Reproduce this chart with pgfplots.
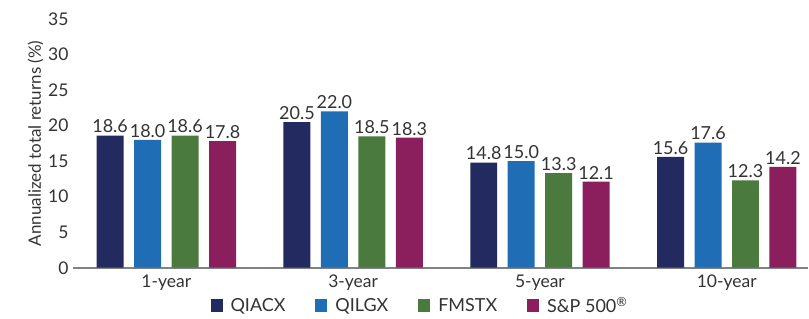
\documentclass[border=0pt]{standalone}
\usepackage{pgfplots}
\pgfplotsset{compat=1.18}
\usepackage{fontspec}
\setmainfont{Lato}
\definecolor{cA}{HTML}{222A60}
\definecolor{cB}{HTML}{1F6DB5}
\definecolor{cC}{HTML}{4A7A3D}
\definecolor{cD}{HTML}{8B1F5E}
\definecolor{txt}{HTML}{333333}
\definecolor{axl}{HTML}{808285}
\begin{document}
\begin{tikzpicture}
\begin{axis}[
  scale only axis,
  width=736pt, height=249pt,
  ybar=10.5pt, bar width=27pt,
  xmin=-0.5, xmax=3.436,
  ymin=0, ymax=35,
  ytick={0,5,...,35},
  xtick={0,1,2,3},
  xticklabels={1-year,3-year,5-year,10-year},
  axis y line=none,
  axis x line*=bottom,
  hide y axis=false,
  axis line style={draw=axl, line width=1.6pt},
  x axis line style={-},
  y axis line style={draw=none},
  major tick length=0pt,
  tick style={draw=none},
  /pgf/number format/assume math mode=true,
  ticklabel style={font=\fontsize{17.5}{20}\selectfont, text=txt},
  yticklabel style={xshift=-1pt},
  xticklabel style={yshift=-4pt},
  ylabel={Annualized total returns (\%)},
  ylabel style={font=\fontsize{17}{20}\selectfont, text=txt, yshift=-2pt},
  nodes near coords,
  nodes near coords style={font=\fontsize{18}{20}\selectfont, text=txt, /pgf/number format/fixed, /pgf/number format/fixed zerofill, /pgf/number format/precision=1, /pgf/number format/assume math mode=true, yshift=-1pt},
  legend style={at={(0.472,-0.152)}, anchor=center, draw=none, legend columns=-1, font=\fontsize{18}{20}\selectfont, text=txt, /tikz/every odd column/.append style={column sep=6pt}, /tikz/every even column/.append style={column sep=28pt}},
  legend image code/.code={\fill[#1] (0pt,-6.5pt) rectangle (12pt,6.5pt);},
  clip=false,
]
\addplot[fill=cA, draw=none] coordinates {(0,18.6) (1,20.5) (2,14.8) (3,15.6)};
\addplot[fill=cB, draw=none] coordinates {(0,18.0) (1,22.0) (2,15.0) (3,17.6)};
\addplot[fill=cC, draw=none] coordinates {(0,18.6) (1,18.5) (2,13.3) (3,12.3)};
\addplot[fill=cD, draw=none] coordinates {(0,17.8) (1,18.3) (2,12.1) (3,14.2)};
\legend{QIACX, QILGX, FMSTX, S\&P 500\textsuperscript{®}}
\end{axis}
\path (current axis.south west) ++(-73pt,-51pt) rectangle ++(809pt,319pt);
\end{tikzpicture}
\end{document}
